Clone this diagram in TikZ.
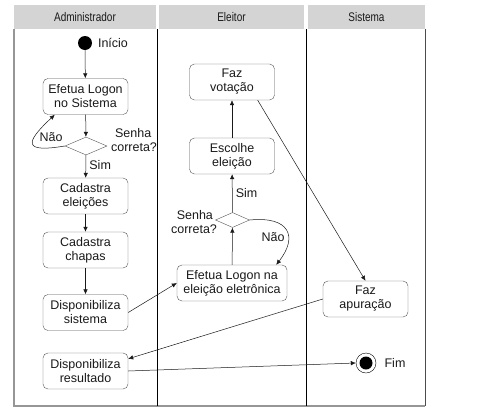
\documentclass[tikz,border=0pt]{standalone}
\usepackage{fontspec}
\setmainfont{Liberation Sans}
\newfontfamily\lanefont[FakeStretch=0.8]{Liberation Sans}
\usetikzlibrary{calc,shapes.geometric,arrows.meta}
\definecolor{lanegray}{RGB}{212,212,212}
\definecolor{boxline}{RGB}{85,85,85}
\definecolor{frame}{RGB}{150,150,150}
\tikzset{
  every node/.style={font=\fontsize{12.5}{14}\selectfont,text=black!90},
  lane/.style={fill=lanegray,minimum height=24pt,inner sep=0pt,font=\lanefont\fontsize{12.5}{14}\selectfont},
  activity/.style={draw=boxline,rounded corners=5pt,align=center,minimum width=85pt,minimum height=36pt,inner sep=2pt},
  decision/.style={draw=boxline,diamond,minimum width=42pt,minimum height=18pt,inner sep=0pt},
  flow/.style={-{Latex[length=5pt,width=4.5pt]},black!90,line width=0.5pt},
}
\begin{document}
\begin{tikzpicture}[x=1pt,y=-1pt]
\useasboundingbox (0,0) rectangle (483,416);
% lanes
\node[lane,minimum width=142pt] (ladm) at (85,17) {Administrador};
\node[lane,minimum width=145pt] (lele) at (231.5,17) {Eleitor};
\node[lane,minimum width=117pt] (lsis) at (366.5,17) {Sistema};
\draw[frame,line width=1.6pt] (14,29) -- (14,406) -- (425,406);
\draw[black!70] (425,29) -- (425,406);
\draw[black] (157,29) -- (157,406) (306,29) -- (306,406);

\node[circle,fill=black,minimum size=14pt,inner sep=0pt] (inicio) at (85,43) {};
\node (tinicio) at (113,43) {Início};
\node[activity] (logon1) at (85.5,96.5) {Efetua Logon\\no Sistema};
\node[decision] (senha1) at (86,146) {};
\node[align=left] (tsenha1) at (134,140) {\hspace*{4pt}Senha\\correta?};
\node[activity] (cad1) at (85.5,196) {Cadastra\\eleições};
\node[activity] (cad2) at (85.5,250) {Cadastra\\chapas};
\node[activity] (disp1) at (85.5,312.5) {Disponibiliza\\sistema};
\node[activity] (disp2) at (85.5,371) {Disponibiliza\\resultado};

\node[activity] (voto) at (232,82) {Faz\\votação};
\node[activity] (escolhe) at (232,156) {Escolhe\\eleição};
\node[decision,minimum width=34pt,minimum height=15pt] (senha2) at (232.5,220) {};
\node[align=right] (tsenha2) at (194,222) {Senha\hspace*{4pt}\\correta?};
\node[activity,minimum width=110pt] (logon2) at (232,283) {Efetua Logon na\\eleição eletrônica};

\node[activity] (apura) at (365.5,299) {Faz\\apuração};
\node[circle,draw=black,minimum size=20pt,inner sep=0pt] (fim) at (366,363) {};
\node[circle,fill=black,minimum size=13pt,inner sep=0pt] (fimdot) at (fim) {};
\node (tfim) at (395,363) {Fim};

\draw[flow] (inicio) -- (logon1);
\draw[flow] (logon1) -- (senha1);
\draw[flow] (senha1) -- node[right,pos=0.45] (tsim1) {Sim} (cad1);
\draw[flow] (senha1.west) .. controls +(-42,7) and +(-30,28) .. ($(logon1.south west)+(12,0)$);
\node (tnao1) at (51,137) {Não};
\draw[flow] (cad1) -- (cad2);
\draw[flow] (cad2) -- (disp1);
\draw[flow] (disp1.east) -- (logon2.west);
\draw[flow] (logon2) -- (senha2);
\draw[flow] (senha2) -- node[right,pos=0.5] (tsim2) {Sim} (escolhe);
\draw[flow] (senha2.east) .. controls +(40,-4) and +(22,-28) .. ($(logon2.north east)+(-11,0)$);
\node (tnao2) at (273,237) {Não};
\draw[flow] (escolhe) -- (voto);
\draw[flow] ($(voto.south east)+(-17,0)$) -- (apura.north);
\draw[flow] (apura.west) -- ($(disp2.north east)+(0,6)$);
\draw[flow] (disp2.east) -- (fim.west);
\end{tikzpicture}
\end{document}
